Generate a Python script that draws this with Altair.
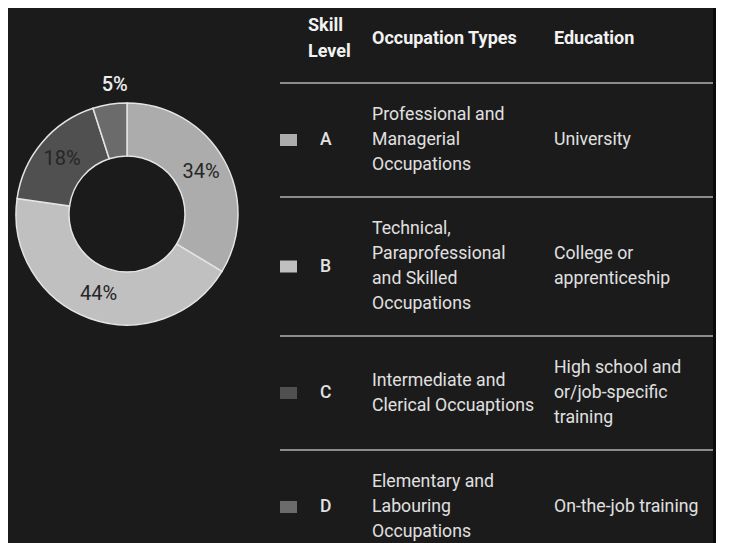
import altair as alt
import pandas as pd

# ---------------- data ----------------
skill_levels = ["A", "B", "C", "D"]
shares = [34, 44, 18, 5]
share_labels = ["34%", "44%", "18%", "5%"]
occupation_types = [
    "Professional and\nManagerial\nOccupations",
    "Technical,\nParaprofessional\nand Skilled\nOccupations",
    "Intermediate and\nClerical Occuaptions",
    "Elementary and\nLabouring\nOccupations",
]
education = [
    "University",
    "College or\napprenticeship",
    "High school and\nor/job-specific\ntraining",
    "On-the-job training",
]
header_labels = ["Skill\nLevel", "Occupation Types", "Education"]
grays = ["#acacac", "#c0c0c0", "#505050", "#6b6b6b"]

# ---------------- layout / style ----------------
W, H = 708, 535
BG = "#1b1b1b"
FONT = "Roboto, Liberation Sans, sans-serif"
CX, CY = 119, 206
R_OUT, R_IN = 111, 58
COL_SWATCH = 280.5
COL_LEVEL = 312
COL_OCC = 364
COL_EDU = 546
HEADER_Y = 31
HEADER_LH = 26
TABLE_TOP = 75
LINE_H = 25
ROW_PAD = 39
RULE_X0, RULE_X1 = 272, 705


def nlines(s):
    return len(s.split("\n"))


def first_line_y(center, s, lh):
    # multi-line text is drawn downward from its first line, so shift it up
    return center - (nlines(s) - 1) * lh / 2


# row geometry derived from the number of text lines in each row
row_tops, row_centers = [], []
top = TABLE_TOP
for occ, edu in zip(occupation_types, education):
    h = ROW_PAD + LINE_H * max(nlines(occ), nlines(edu))
    row_tops.append(top)
    row_centers.append(top + h / 2)
    top += h

pie_df = pd.DataFrame({
    "level": skill_levels,
    "share": shares,
    "label": share_labels,
    "idx": list(range(len(skill_levels))),
})

table_df = pd.DataFrame({
    "level": skill_levels,
    "occ": occupation_types,
    "edu": education,
    "yc": row_centers,
    "y_occ": [first_line_y(c, s, LINE_H) for c, s in zip(row_centers, occupation_types)],
    "y_edu": [first_line_y(c, s, LINE_H) for c, s in zip(row_centers, education)],
})
rules_df = pd.DataFrame({"y": row_tops})
header_df = pd.DataFrame({
    "text": header_labels,
    "x": [COL_LEVEL - 12, COL_OCC, COL_EDU],
    "y": [first_line_y(HEADER_Y, s, HEADER_LH) for s in header_labels],
})

color_scale = alt.Scale(domain=skill_levels, range=grays)

# ---------------- donut ----------------
arc = alt.Chart(pie_df).mark_arc(
    outerRadius=R_OUT, innerRadius=R_IN, stroke="#e4e4e4", strokeWidth=1.5
).encode(
    theta=alt.Theta("share:Q", stack=True),
    color=alt.Color("level:N", scale=color_scale, legend=None),
    order=alt.Order("idx:Q"),
    x=alt.value(CX),
    y=alt.value(CY),
)

inner_labels = alt.Chart(pie_df).transform_calculate(
    txt="datum.share >= 10 ? datum.label : ''"
).mark_text(
    radius=85, font=FONT, fontSize=20, color="#262626"
).encode(
    theta=alt.Theta("share:Q", stack=True),
    order=alt.Order("idx:Q"),
    text="txt:N",
    x=alt.value(CX),
    y=alt.value(CY),
)

outer_labels = alt.Chart(pie_df).transform_calculate(
    txt="datum.share < 10 ? datum.label : ''"
).mark_text(
    radius=131, dx=8, font=FONT, fontSize=20, fontWeight=500, color="#ececec"
).encode(
    theta=alt.Theta("share:Q", stack=True),
    order=alt.Order("idx:Q"),
    text="txt:N",
    x=alt.value(CX),
    y=alt.value(CY),
)

# ---------------- table ----------------
headers = alt.Chart(header_df).mark_text(
    align="left", baseline="middle", lineBreak="\n", lineHeight=HEADER_LH,
    font=FONT, fontSize=18, fontWeight="bold", color="#f2f2f2"
).encode(
    x=alt.X("x:Q", scale=None, axis=None),
    y=alt.Y("y:Q", scale=None, axis=None),
    text="text:N",
)

rules = alt.Chart(rules_df).mark_rule(color="#8c8c8c", strokeWidth=2).encode(
    x=alt.value(RULE_X0),
    x2=alt.value(RULE_X1),
    y=alt.Y("y:Q", scale=None, axis=None),
)

swatches = alt.Chart(table_df).mark_rect(width=17, height=12).encode(
    x=alt.value(COL_SWATCH),
    y=alt.Y("yc:Q", scale=None, axis=None),
    color=alt.Color("level:N", scale=color_scale, legend=None),
)

letters = alt.Chart(table_df).mark_text(
    align="left", baseline="middle", font=FONT, fontSize=17.5, fontWeight=500,
    color="#e2e2e2"
).encode(
    x=alt.value(COL_LEVEL),
    y=alt.Y("yc:Q", scale=None, axis=None),
    text="level:N",
)

occ_text = alt.Chart(table_df).mark_text(
    align="left", baseline="middle", lineBreak="\n", lineHeight=LINE_H,
    font=FONT, fontSize=17.7, color="#e0e0e0"
).encode(
    x=alt.value(COL_OCC),
    y=alt.Y("y_occ:Q", scale=None, axis=None),
    text="occ:N",
)

edu_text = alt.Chart(table_df).mark_text(
    align="left", baseline="middle", lineBreak="\n", lineHeight=LINE_H,
    font=FONT, fontSize=17.7, color="#e0e0e0"
).encode(
    x=alt.value(COL_EDU),
    y=alt.Y("y_edu:Q", scale=None, axis=None),
    text="edu:N",
)

edge = alt.Chart(pie_df).mark_rule(color="#0b0b0b", strokeWidth=3).encode(
    x=alt.value(W - 1.5),
    y=alt.value(0),
    y2=alt.value(H),
)

chart = alt.layer(
    arc, inner_labels, outer_labels, headers, rules, swatches, letters,
    occ_text, edu_text, edge
).properties(
    width=W, height=H, background=BG, padding=0,
    autosize=alt.AutoSizeParams(type="none"),
).configure_view(stroke=None)

chart.save("out.html", embed_options={"renderer": "svg", "actions": False})
